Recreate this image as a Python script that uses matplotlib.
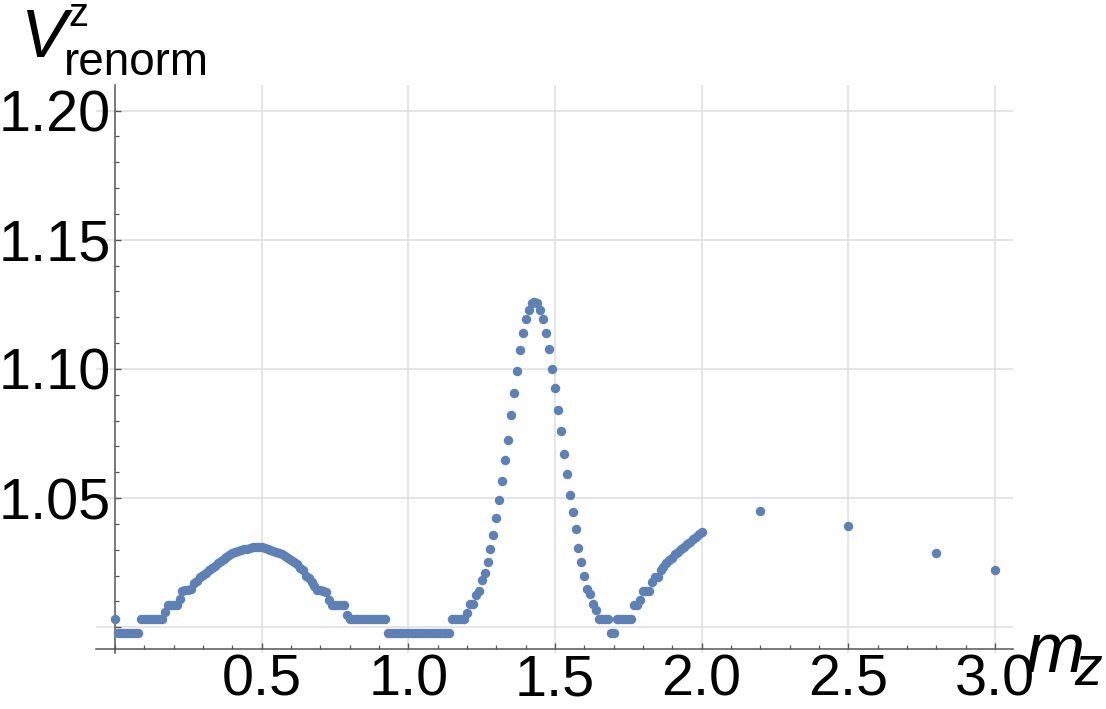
import numpy as np
import matplotlib
matplotlib.use("Agg")
import matplotlib.pyplot as plt
from matplotlib.ticker import FixedLocator

# ---- data ----
mz_dense = np.round(np.arange(0, 201) * 0.01, 2)
v_dense = [
    1.0032,
    0.9977, 0.9977, 0.9977, 0.9977, 0.9977, 0.9977, 0.9977, 0.9977,
    1.0032, 1.0032, 1.0032, 1.0032, 1.0032, 1.0032, 1.0032, 1.0032,
    1.0058,
    1.0086, 1.0086, 1.0086, 1.0086,
    1.0110, 1.0140, 1.0144, 1.0144, 1.0150, 1.0170, 1.0180, 1.0195, 1.0202, 1.0209,
    1.0220, 1.0230, 1.0238, 1.0248, 1.0256, 1.0265, 1.0273, 1.0280, 1.0286, 1.0290,
    1.0295, 1.0298, 1.0302, 1.0305, 1.0308, 1.0309, 1.0310, 1.0310, 1.0309, 1.0307,
    1.0304, 1.0301, 1.0297, 1.0292, 1.0287, 1.0282, 1.0276, 1.0270, 1.0262, 1.0254,
    1.0246, 1.0230, 1.0220, 1.0200, 1.0190, 1.0176, 1.0160, 1.0146, 1.0144, 1.0140,
    1.0138,
    1.0106,
    1.0086, 1.0086, 1.0086, 1.0086, 1.0086,
    1.0048,
    1.0032, 1.0032, 1.0032, 1.0032, 1.0032, 1.0032, 1.0032, 1.0032, 1.0032, 1.0032,
    1.0032, 1.0032, 1.0032,
    0.9977, 0.9977, 0.9977, 0.9977, 0.9977, 0.9977, 0.9977, 0.9977, 0.9977, 0.9977,
    0.9977, 0.9977, 0.9977, 0.9977, 0.9977, 0.9977, 0.9977, 0.9977, 0.9977, 0.9977,
    0.9977, 0.9977,
    1.0031, 1.0031, 1.0031, 1.0031, 1.0031,
    1.0057, 1.0089, 1.0089, 1.0125, 1.0140, 1.0183, 1.0211, 1.0253, 1.0304, 1.0357,
    1.0424, 1.0493, 1.0565, 1.0647, 1.0725, 1.0822, 1.0907, 1.0993, 1.1072, 1.1138,
    1.1192, 1.1228, 1.1254, 1.1259, 1.1254, 1.1228, 1.1192, 1.1138, 1.1076, 1.1001,
    1.0925, 1.0841, 1.0761, 1.0671, 1.0592, 1.0512, 1.0445, 1.0379, 1.0308, 1.0252,
    1.0199, 1.0148, 1.0128, 1.0089, 1.0067,
    1.0031, 1.0031, 1.0031, 1.0031,
    0.9977, 0.9977,
    1.0031, 1.0031, 1.0031, 1.0031, 1.0031, 1.0031,
    1.0088, 1.0088, 1.0106, 1.0142, 1.0142, 1.0142, 1.0176, 1.0196, 1.0196, 1.0220,
    1.0235, 1.0250, 1.0260, 1.0270, 1.0282, 1.0292, 1.0302, 1.0312, 1.0322, 1.0332,
    1.0342, 1.0351, 1.0360, 1.0368,
]
mz_sparse = [2.2, 2.5, 2.8, 3.0]
v_sparse = [1.0450, 1.0393, 1.0286, 1.0221]

x_major = [0.5, 1.0, 1.5, 2.0, 2.5, 3.0]
x_labels = ["0.5", "1.0", "1.5", "2.0", "2.5", "3.0"]
y_major = [1.00, 1.05, 1.10, 1.15, 1.20]
y_labels = ["", "1.05", "1.10", "1.15", "1.20"]

mz = list(mz_dense) + mz_sparse
v = list(v_dense) + v_sparse

# ---- figure ----
W, H = 1106, 709
fig = plt.figure(figsize=(W / 100, H / 100), dpi=100)
left, right, top, bottom = 96, 1013, 85, 652.7
ax = fig.add_axes([left / W, 1 - bottom / H, (right - left) / W, (bottom - top) / H])

axis_col = "#555555"
ax.plot(mz, v, linestyle="none", marker="o", markersize=6.8,
        markerfacecolor="#5E81B5", markeredgewidth=0, zorder=3, clip_on=False)

ax.set_xlim(-0.0648, 3.0616)
ax.set_ylim(0.99017, 1.2099)

for s in ["top", "right"]:
    ax.spines[s].set_visible(False)
ax.spines["left"].set_position(("data", 0.0))
ax.spines["bottom"].set_position(("data", 0.99149))
for s in ["left", "bottom"]:
    ax.spines[s].set_color(axis_col)
    ax.spines[s].set_linewidth(1.1)

ax.xaxis.set_major_locator(FixedLocator(x_major))
ax.set_xticklabels(x_labels)
ax.xaxis.set_minor_locator(FixedLocator([i * 0.1 for i in range(0, 31)]))
ax.yaxis.set_major_locator(FixedLocator(y_major))
ax.set_yticklabels(y_labels)
ax.yaxis.set_minor_locator(FixedLocator([1.0 + i * 0.01 for i in range(0, 21)]))

for lab in ax.get_xticklabels() + ax.get_yticklabels():
    lab.set_fontfamily("Liberation Sans")
    lab.set_fontsize(41.5)

ax.tick_params(axis="both", which="major", direction="in", length=4.5,
               width=1.0, color=axis_col, pad=3)
ax.tick_params(axis="both", which="minor", direction="in", length=2.6,
               width=0.9, color=axis_col)

ax.grid(True, which="major", color="#dedede", linewidth=1.1)
ax.set_axisbelow(True)


def ftext(px, py, s, size, style="normal"):
    fig.text(px / W, 1 - py / H, s, fontsize=size, fontfamily="Liberation Sans",
             fontstyle=style, ha="left", va="baseline")


# y-axis label  V^z_renorm
ftext(21, 57, "V", 50, "italic")
ftext(68, 26, "z", 29)
ftext(64, 75, "renorm", 33)
# x-axis label  m_z
ftext(1026, 672, "m", 51, "italic")
ftext(1074, 685, "z", 40, "italic")

fig.savefig("out.png", dpi=100)
